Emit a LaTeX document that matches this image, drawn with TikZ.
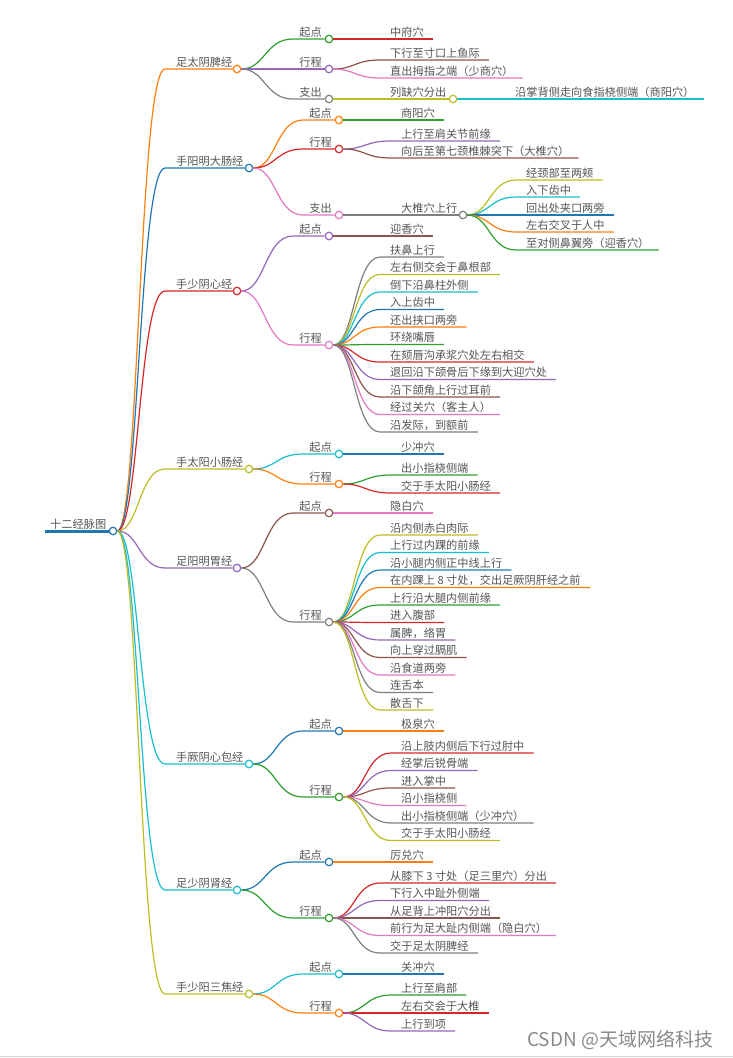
\documentclass[tikz,border=0pt]{standalone}
\usepackage{fontspec}
\newfontfamily\cjk{Noto Sans CJK SC}
\usetikzlibrary{calc}
\definecolor{cB}{HTML}{1F77B4}
\definecolor{cO}{HTML}{FF7F0E}
\definecolor{cG}{HTML}{2CA02C}
\definecolor{cR}{HTML}{D62728}
\definecolor{cP}{HTML}{9467BD}
\definecolor{cBr}{HTML}{8C564B}
\definecolor{cPk}{HTML}{E377C2}
\definecolor{cGy}{HTML}{7F7F7F}
\definecolor{cOl}{HTML}{BCBD22}
\definecolor{cC}{HTML}{17BECF}
\definecolor{tcol}{HTML}{555555}
\definecolor{wmcol}{HTML}{8A8A8A}
\tikzset{
  txt/.style={font=\cjk\fontsize{11.2}{13}\selectfont, text=tcol, inner sep=0pt},
  ln/.style={line width=1.2pt},
  dot/.style={circle, draw=#1, fill=white, line width=1.2pt, minimum size=7.5pt, inner sep=0pt},
  mm/.style={to path={.. controls ($(\tikztostart)!0.5!(\tikztotarget|-\tikztostart)$) and ($(\tikztostart|-\tikztotarget)!0.5!(\tikztotarget)$) .. (\tikztotarget)}}
}
% level 1: name, y, circle x, colour, text
\newcommand\mmA[5]{%
  \node[dot=#4] (#1) at (#3,#2) {};
  \node[txt, anchor=base west] (#1t) at (176,#2-3) {#5};
  \coordinate (#1s) at (165,#2);
  \draw[ln,#4] (root) to[mm] (#1s) -- (#1);
}
% level 2: name, parent, y, circle x, colour, text
\newcommand\mmB[6]{%
  \node[dot=#5] (#1) at (#4,#3) {};
  \node[txt, anchor=base east] (#1t) at (#4-7,#3-3) {#6};
  \coordinate (#1s) at (#4-36,#3);
  \draw[ln,#5] (#2) to[mm] (#1s) -- (#1);
}
% leaf: name, parent, y, text x, colour, text
\newcommand\mmC[6]{%
  \node[txt, anchor=base west] (#1t) at (#4,#3-3) {#6};
  \coordinate (#1s) at (#4-10,#3);
  \coordinate (#1e) at ($(#1t.base east)+(9,3)$);
  \draw[ln,#5] (#2) to[mm] (#1s) -- (#1e);
}
% inner level 3 with circle: name, parent, y, text x, colour, text, circle x
\newcommand\mmD[7]{%
  \node[dot=#5] (#1) at (#7,#3) {};
  \node[txt, anchor=base west] (#1t) at (#4,#3-3) {#6};
  \coordinate (#1s) at (#4-10,#3);
  \draw[ln,#5] (#2) to[mm] (#1s) -- (#1);
}
\begin{document}
\begin{tikzpicture}[x=1pt,y=-1pt]
\useasboundingbox (0,0) rectangle (733,1058);
\fill[white] (0,0) rectangle (733,1058);
\draw[gray!35, line width=1pt] (0,1056.5) -- (733,1056.5);

% root
\node[dot=cB] (root) at (113,531) {};
\node[txt, anchor=base west] (roott) at (50,528) {十二经脉图};
\coordinate (rootl) at (45,531);
\draw[cB, line width=3pt] (rootl) -- (root);

% branch 1
\mmA{a}{69}{237}{cO}{足太阴脾经}
\mmB{a1}{a}{39}{329}{cG}{起点}
\mmC{a11}{a1}{39}{390}{cR}{中府穴}
\mmB{a2}{a}{69}{329}{cP}{行程}
\mmC{a21}{a2}{60}{390}{cBr}{下行至寸口上鱼际}
\mmC{a22}{a2}{78}{390}{cPk}{直出拇指之端（少商穴）}
\mmB{a3}{a}{99}{329}{cGy}{支出}
\mmD{a31}{a3}{99}{390}{cOl}{列缺穴分出}{453}
\mmC{a311}{a31}{99}{515}{cC}{沿掌背侧走向食指桡侧端（商阳穴）}

% branch 2
\mmA{b}{168}{249}{cB}{手阳明大肠经}
\mmB{b1}{b}{120}{339}{cO}{起点}
\mmC{b11}{b1}{120}{401}{cG}{商阳穴}
\mmB{b2}{b}{149}{339}{cR}{行程}
\mmC{b21}{b2}{141}{401}{cP}{上行至肩关节前缘}
\mmC{b22}{b2}{158}{401}{cBr}{向后至第七颈椎棘突下（大椎穴）}
\mmB{b3}{b}{215}{339}{cPk}{支出}
\mmD{b31}{b3}{215}{401}{cGy}{大椎穴上行}{463}
\mmC{b311}{b31}{180}{526}{cOl}{经颈部至两颊}
\mmC{b312}{b31}{197}{526}{cC}{入下齿中}
\mmC{b313}{b31}{215}{526}{cB}{回出处夹口两旁}
\mmC{b314}{b31}{232}{526}{cO}{左右交叉于人中}
\mmC{b315}{b31}{250}{526}{cG}{至对侧鼻翼旁（迎香穴）}

% branch 3
\mmA{c}{291}{237}{cR}{手少阴心经}
\mmB{c1}{c}{236}{329}{cP}{起点}
\mmC{c11}{c1}{236}{390}{cBr}{迎香穴}
\mmB{c2}{c}{345}{329}{cPk}{行程}
\mmC{c21}{c2}{257}{390}{cGy}{扶鼻上行}
\mmC{c22}{c2}{274.5}{390}{cOl}{左右侧交会于鼻根部}
\mmC{c23}{c2}{292}{390}{cC}{倒下沿鼻柱外侧}
\mmC{c24}{c2}{309.5}{390}{cB}{入上齿中}
\mmC{c25}{c2}{327}{390}{cO}{还出挟口两旁}
\mmC{c26}{c2}{344.5}{390}{cG}{环绕嘴唇}
\mmC{c27}{c2}{362}{390}{cR}{在颏唇沟承浆穴处左右相交}
\mmC{c28}{c2}{379.5}{390}{cP}{退回沿下颌骨后下缘到大迎穴处}
\mmC{c29}{c2}{397}{390}{cBr}{沿下颌角上行过耳前}
\mmC{c210}{c2}{414.5}{390}{cPk}{经过关穴（客主人）}
\mmC{c211}{c2}{432}{390}{cGy}{沿发际，到额前}

% branch 4
\mmA{d}{469}{249}{cOl}{手太阳小肠经}
\mmB{d1}{d}{454}{339}{cC}{起点}
\mmC{d11}{d1}{454}{401}{cB}{少冲穴}
\mmB{d2}{d}{484}{339}{cO}{行程}
\mmC{d21}{d2}{475}{401}{cG}{出小指桡侧端}
\mmC{d22}{d2}{493}{401}{cR}{交于手太阳小肠经}

% branch 5
\mmA{e}{568}{237}{cP}{足阳明胃经}
\mmB{e1}{e}{513}{329}{cBr}{起点}
\mmC{e11}{e1}{513}{390}{cPk}{隐白穴}
\mmB{e2}{e}{622}{329}{cGy}{行程}
\mmC{e21}{e2}{535}{390}{cOl}{沿内侧赤白肉际}
\mmC{e22}{e2}{552.5}{390}{cC}{上行过内踝的前缘}
\mmC{e23}{e2}{570}{390}{cB}{沿小腿内侧正中线上行}
\mmC{e24}{e2}{587.5}{390}{cO}{在内踝上 8 寸处，交出足厥阴肝经之前}
\mmC{e25}{e2}{605}{390}{cG}{上行沿大腿内侧前缘}
\mmC{e26}{e2}{622.5}{390}{cR}{进入腹部}
\mmC{e27}{e2}{640}{390}{cP}{属脾，络胃}
\mmC{e28}{e2}{657.5}{390}{cBr}{向上穿过膈肌}
\mmC{e29}{e2}{675}{390}{cPk}{沿食道两旁}
\mmC{e210}{e2}{692.5}{390}{cGy}{连舌本}
\mmC{e211}{e2}{710}{390}{cOl}{散舌下}

% branch 6
\mmA{f}{764}{249}{cC}{手厥阴心包经}
\mmB{f1}{f}{731}{339}{cB}{起点}
\mmC{f11}{f1}{731}{401}{cO}{极泉穴}
\mmB{f2}{f}{797}{339}{cG}{行程}
\mmC{f21}{f2}{753}{401}{cR}{沿上肢内侧后下行过肘中}
\mmC{f22}{f2}{770.5}{401}{cP}{经掌后锐骨端}
\mmC{f23}{f2}{788}{401}{cBr}{进入掌中}
\mmC{f24}{f2}{805.5}{401}{cPk}{沿小指桡侧}
\mmC{f25}{f2}{823}{401}{cGy}{出小指桡侧端（少冲穴）}
\mmC{f26}{f2}{840.5}{401}{cOl}{交于手太阳小肠经}

% branch 7
\mmA{g}{890}{237}{cC}{足少阴肾经}
\mmB{g1}{g}{862}{329}{cB}{起点}
\mmC{g11}{g1}{862}{390}{cO}{厉兑穴}
\mmB{g2}{g}{918}{329}{cG}{行程}
\mmC{g21}{g2}{883}{390}{cR}{从膝下 3 寸处（足三里穴）分出}
\mmC{g22}{g2}{900.5}{390}{cP}{下行入中趾外侧端}
\mmC{g23}{g2}{918}{390}{cBr}{从足背上冲阳穴分出}
\mmC{g24}{g2}{935.5}{390}{cPk}{前行为足大趾内侧端（隐白穴）}
\mmC{g25}{g2}{953}{390}{cGy}{交于足太阴脾经}

% branch 8
\mmA{h}{994}{249}{cOl}{手少阳三焦经}
\mmB{h1}{h}{974}{339}{cC}{起点}
\mmC{h11}{h1}{974}{401}{cB}{关冲穴}
\mmB{h2}{h}{1013}{339}{cO}{行程}
\mmC{h21}{h2}{995}{401}{cG}{上行至肩部}
\mmC{h22}{h2}{1013}{401}{cR}{左右交会于大椎}
\mmC{h23}{h2}{1031}{401}{cP}{上行到项}

% watermark
\node[anchor=base west, inner sep=0pt, font=\cjk\fontsize{19}{22}\selectfont, text=wmcol] (wm) at (527,1046) {CSDN @天域网络科技};
\end{tikzpicture}
\end{document}
